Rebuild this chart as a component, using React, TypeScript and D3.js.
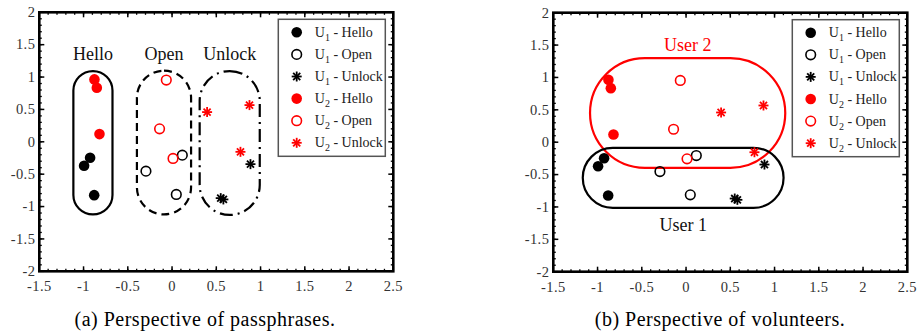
import React from 'react';
import * as d3 from 'd3';

// points, [x, y]
const u1Hello = [[-0.926, -0.247], [-0.994, -0.371], [-0.88, -0.824]];
const u2Hello = [[-0.877, 0.964], [-0.85, 0.835], [-0.82, 0.119]];
const u1Open = [[0.116, -0.206], [-0.295, -0.453], [0.048, -0.813]];
const u2Open = [[-0.065, 0.954], [-0.141, 0.2], [0.011, -0.257]];
const u1Unlock = [[0.886, -0.345], [0.55, -0.87], [0.58, -0.89]];
const u2Unlock = [[0.396, 0.459], [0.875, 0.567], [0.773, -0.155]];

const xTicks = [-1.5, -1, -0.5, 0, 0.5, 1, 1.5, 2, 2.5];
const yTicks = [-2, -1.5, -1, -0.5, 0, 0.5, 1, 1.5, 2];

const series = [
  {user: '1', phrase: 'Hello', color: 'black', kind: 'filled', pts: u1Hello},
  {user: '1', phrase: 'Open', color: 'black', kind: 'open', pts: u1Open},
  {user: '1', phrase: 'Unlock', color: 'black', kind: 'star', pts: u1Unlock},
  {user: '2', phrase: 'Hello', color: 'red', kind: 'filled', pts: u2Hello},
  {user: '2', phrase: 'Open', color: 'red', kind: 'open', pts: u2Open},
  {user: '2', phrase: 'Unlock', color: 'red', kind: 'star', pts: u2Unlock},
];

// groupings: [x0, x1, y0, y1]
const phraseGroups = [
  {label: 'Hello', box: [-1.115, -0.673, -1.122, 1.093], dash: null, labelY: 1.35},
  {label: 'Open', box: [-0.397, 0.215, -1.122, 1.098], dash: '8,5', labelY: 1.35},
  {label: 'Unlock', box: [0.312, 0.991, -1.13, 1.093], dash: '13,5,2,5', labelY: 1.35},
];
const userGroups = [
  {label: 'User 2', box: [-1.085, 1.121, -0.396, 1.298], color: 'red', labelY: 1.5},
  {label: 'User 1', box: [-1.167, 1.102, -1.014, -0.087], color: 'black', labelY: -1.28},
];

const FONT = '"Liberation Serif", "DejaVu Serif", serif';

const Marker = ({kind, color, x, y}) => {
  if (kind === 'filled') return <circle cx={x} cy={y} r={5.3} fill={color} />;
  if (kind === 'open') return <circle cx={x} cy={y} r={4.8} fill="none" stroke={color} strokeWidth={1.6} />;
  const r = 5;
  return (
    <g stroke={color} strokeWidth={1.8}>
      {[0, 45, 90, 135].map(a => {
        const dx = r * Math.cos(a * Math.PI / 180), dy = r * Math.sin(a * Math.PI / 180);
        return <line key={a} x1={x - dx} y1={y - dy} x2={x + dx} y2={y + dy} />;
      })}
    </g>
  );
};

const Panel = ({left, top, mode}) => {
  const w = 354, h = 259;
  const x = d3.scaleLinear().domain([-1.5, 2.5]).range([left, left + w]);
  const y = d3.scaleLinear().domain([-2, 2]).range([top + h, top]);
  const minorX = d3.range(-1.5, 2.5001, 0.1);
  const minorY = d3.range(-2, 2.0001, 0.1);
  const lg = {x: left + 239, y: top + 7, w: 107, h: 137};

  const capsule = (b, stroke, dash, key) => {
    const px0 = x(b[0]), px1 = x(b[1]), py0 = y(b[3]), py1 = y(b[2]);
    const r = Math.min(px1 - px0, py1 - py0) / 2;
    return <rect key={key} x={px0} y={py0} width={px1 - px0} height={py1 - py0} rx={r} ry={r}
      fill="none" stroke={stroke} strokeWidth={2.2} strokeDasharray={dash || undefined} />;
  };

  return (
    <g fontFamily={FONT}>
      {/* ticks */}
      <g stroke="black">
        {minorX.map((v, i) => (
          <g key={'mx' + i} strokeWidth={1.3}>
            <line x1={x(v)} x2={x(v)} y1={top + h} y2={top + h - 2.5} />
            <line x1={x(v)} x2={x(v)} y1={top} y2={top + 2.5} />
          </g>
        ))}
        {minorY.map((v, i) => (
          <g key={'my' + i} strokeWidth={1.3}>
            <line x1={left} x2={left + 2.5} y1={y(v)} y2={y(v)} />
            <line x1={left + w} x2={left + w - 2.5} y1={y(v)} y2={y(v)} />
          </g>
        ))}
        {xTicks.map(v => (
          <g key={'x' + v} strokeWidth={1.5}>
            <line x1={x(v)} x2={x(v)} y1={top + h} y2={top + h - 5} />
            <line x1={x(v)} x2={x(v)} y1={top} y2={top + 5} />
          </g>
        ))}
        {yTicks.map(v => (
          <g key={'y' + v} strokeWidth={1.5}>
            <line x1={left} x2={left + 5} y1={y(v)} y2={y(v)} />
            <line x1={left + w} x2={left + w - 5} y1={y(v)} y2={y(v)} />
          </g>
        ))}
      </g>
      <rect x={left} y={top} width={w} height={h} fill="none" stroke="black" strokeWidth={2.6} />
      {xTicks.map(v => (
        <text key={'xl' + v} x={x(v)} y={top + h + 20} textAnchor="middle" fontSize={14.5} letterSpacing={0.4} fill="#333">{String(v)}</text>
      ))}
      {yTicks.map(v => (
        <text key={'yl' + v} x={left - 4} y={y(v) + 4.8} textAnchor="end" fontSize={14.5} letterSpacing={0.4} fill="#333">{String(v)}</text>
      ))}

      {mode === 'phrase' && phraseGroups.map((g, i) => (
        <g key={g.label}>
          {capsule(g.box, 'black', g.dash, 'c' + i)}
          <text x={x((g.box[0] + g.box[1]) / 2)} y={y(g.labelY) + 6} textAnchor="middle" fontSize={18} fill="#111">{g.label}</text>
        </g>
      ))}
      {mode === 'user' && userGroups.map((g, i) => (
        <g key={g.label}>
          {capsule(g.box, g.color, null, 'u' + i)}
          <text x={x((g.box[0] + g.box[1]) / 2)} y={y(g.labelY) + 6} textAnchor="middle" fontSize={18} fill={g.color === 'red' ? 'red' : '#111'}>{g.label}</text>
        </g>
      ))}

      {series.map(s => s.pts.map((p, i) => (
        <Marker key={s.user + s.phrase + i} kind={s.kind} color={s.color} x={x(p[0])} y={y(p[1])} />
      )))}

      {/* legend */}
      <rect x={lg.x} y={lg.y} width={lg.w} height={lg.h} fill="white" stroke="#555" strokeWidth={1.5} />
      {series.map((s, i) => {
        const ry = lg.y + 13 + i * 22.1;
        return (
          <g key={'lg' + i}>
            <Marker kind={s.kind} color={s.color} x={lg.x + 18.4} y={ry} />
            <text x={lg.x + 36.5} y={ry + 4.5} fontSize={14} fill="#222">
              U<tspan fontSize={10} dy={4}>{s.user}</tspan><tspan dy={-4}> - {s.phrase}</tspan>
            </text>
          </g>
        );
      })}
    </g>
  );
};

const App = () => {
  return (
    <svg width={919} height={333} style={{position: 'absolute', left: 0, top: 0, background: 'white'}}>
      <Panel left={39.3} top={12.3} mode="phrase" />
      <Panel left={553.3} top={12.7} mode="user" />
      <text x={205} y={326} textAnchor="middle" fontSize={20} letterSpacing={0.5} fontFamily={FONT}>(a)  Perspective of passphrases.</text>
      <text x={720} y={326} textAnchor="middle" fontSize={20} letterSpacing={0.5} fontFamily={FONT}>(b)  Perspective of volunteers.</text>
    </svg>
  );
};

export default App;
